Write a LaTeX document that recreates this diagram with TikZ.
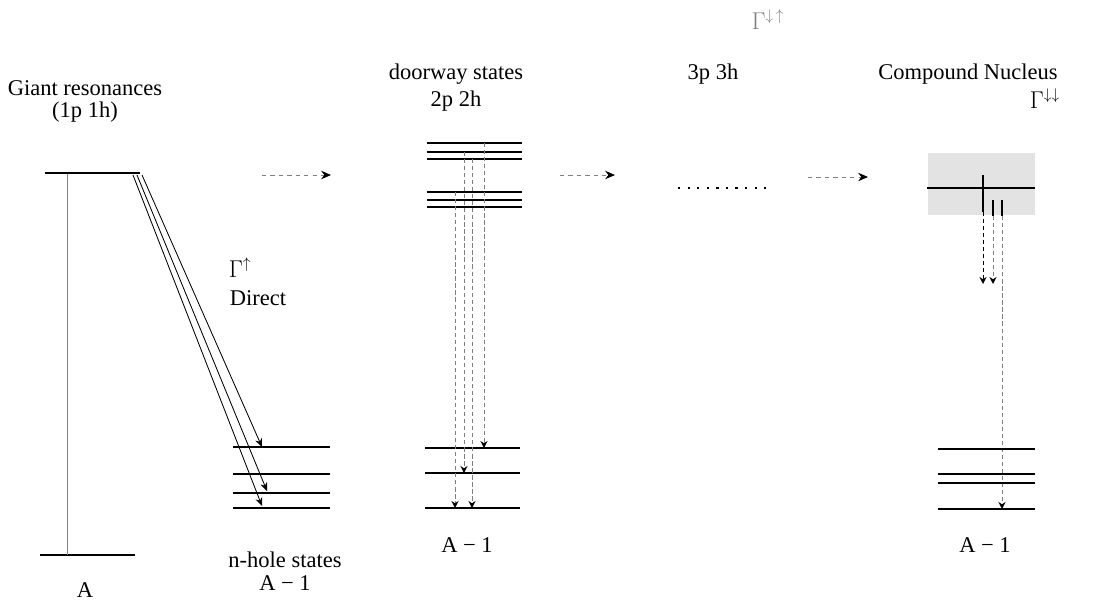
\documentclass[tikz,border=0pt]{standalone}
\usepackage{fontspec}
\setmainfont{Liberation Serif}
\usetikzlibrary{arrows.meta, positioning}

\begin{document}
\begin{tikzpicture}[x=0.025cm, y=-0.025cm,
    lbl/.style={font=\fontsize{16}{19}\selectfont, inner sep=1pt},
    level/.style={line width=1.2pt},
    decay/.style={-{Stealth[length=6pt, width=5pt]}, line width=0.6pt},
    feed/.style={gray, dashed, line width=0.6pt, -{Stealth[length=7pt, width=6pt, black]}},
    drop/.style={gray, densely dashed, line width=0.7pt, -{Stealth[length=5pt, width=5pt, black]}},
]
    \useasboundingbox (0,0) rectangle (1094,601);

    % giant resonance, ground state A
    \node[lbl] (gr) at (85,88) {Giant resonances};
    \node[lbl, below=2pt of gr] (grph) {(1p 1h)};
    \draw[level] (45,173) -- (140,173);
    \draw[level] (40,555) -- (135,555);
    \node[lbl] (a) at (85,590) {A};
    \coordinate (grtop) at (67,174);
    \coordinate (abot) at (67,555);
    \draw[gray, line width=0.6pt] (grtop) -- (abot);

    % n-hole states
    \foreach \y in {447,474,493,508}
        \draw[level] (233,\y) -- (330,\y);
    \node[lbl] (nh) at (285,560) {n-hole states};
    \node[lbl, below=3pt of nh] (nham) {A − 1};
    \coordinate (d1) at (133,175); \coordinate (e1) at (262,506);
    \coordinate (d2) at (137,175); \coordinate (e2) at (267,491);
    \coordinate (d3) at (142,175); \coordinate (e3) at (262,447);
    \draw[decay] (d1) -- (e1);
    \draw[decay] (d2) -- (e2);
    \draw[decay] (d3) -- (e3);
    \node[lbl] (gup) at (240,268) {$\Gamma^{\uparrow}$};
    \node[lbl] (direct) at (258,298) {Direct};

    % doorway states
    \node[lbl] (door) at (456,74) {doorway states};
    \node[lbl, below=2pt of door] (dph) {2p 2h};
    \foreach \y in {143,152,159,192,200,207}
        \draw[level] (427,\y) -- (522,\y);
    \foreach \y in {448,473,508}
        \draw[level] (425,\y) -- (520,\y);
    \node[lbl] (dam) at (467,545) {A − 1};
    \coordinate (v1) at (455,192); \coordinate (w1) at (455,508);
    \coordinate (v2) at (464,152); \coordinate (w2) at (464,473);
    \coordinate (v3) at (472,159); \coordinate (w3) at (472,508);
    \coordinate (v4) at (484,143); \coordinate (w4) at (484,448);
    \foreach \i in {1,...,4}
        \draw[drop] (v\i) -- (w\i);

    % 3p 3h
    \node[lbl] (tph) at (713,74) {3p 3h};
    \coordinate (dots1) at (678,188); \coordinate (dots2) at (766,188);
    \draw[line width=1.6pt, dash pattern=on 1.6pt off 5.2pt] (dots1) -- (dots2);

    % compound nucleus
    \node[lbl] (cn) at (968,74) {Compound Nucleus};
    \node[lbl] (gdd) at (1045,99) {$\Gamma^{\downarrow\downarrow}$};
    \node[lbl, gray] (gtop) at (768,20) {$\Gamma^{\downarrow\,\uparrow}$};
    \fill[gray!22] (928,153) rectangle (1035,215);
    \draw[line width=2pt] (927,188) -- (1035,188);
    \draw[line width=2pt] (983,175) -- (983,212);
    \draw[line width=1.6pt] (993,200) -- (993,216);
    \draw[line width=1.6pt] (1002,200) -- (1002,216);
    \coordinate (c1) at (983,212); \coordinate (k1) at (983,284);
    \coordinate (c2) at (993,216); \coordinate (k2) at (993,284);
    \coordinate (c3) at (1002,216); \coordinate (k3) at (1002,509);
    \draw[drop, black] (c1) -- (k1);
    \draw[drop] (c2) -- (k2);
    \draw[drop] (c3) -- (k3);
    \foreach \y in {449,474,483,509}
        \draw[level] (938,\y) -- (1035,\y);
    \node[lbl] (cam) at (985,545) {A − 1};

    % feeding arrows
    \coordinate (f1) at (262,175); \coordinate (g1) at (331,175);
    \coordinate (f2) at (560,175); \coordinate (g2) at (615,175);
    \coordinate (f3) at (808,177); \coordinate (g3) at (868,177);
    \draw[feed] (f1) -- (g1);
    \draw[feed] (f2) -- (g2);
    \draw[feed] (f3) -- (g3);
\end{tikzpicture}
\end{document}
